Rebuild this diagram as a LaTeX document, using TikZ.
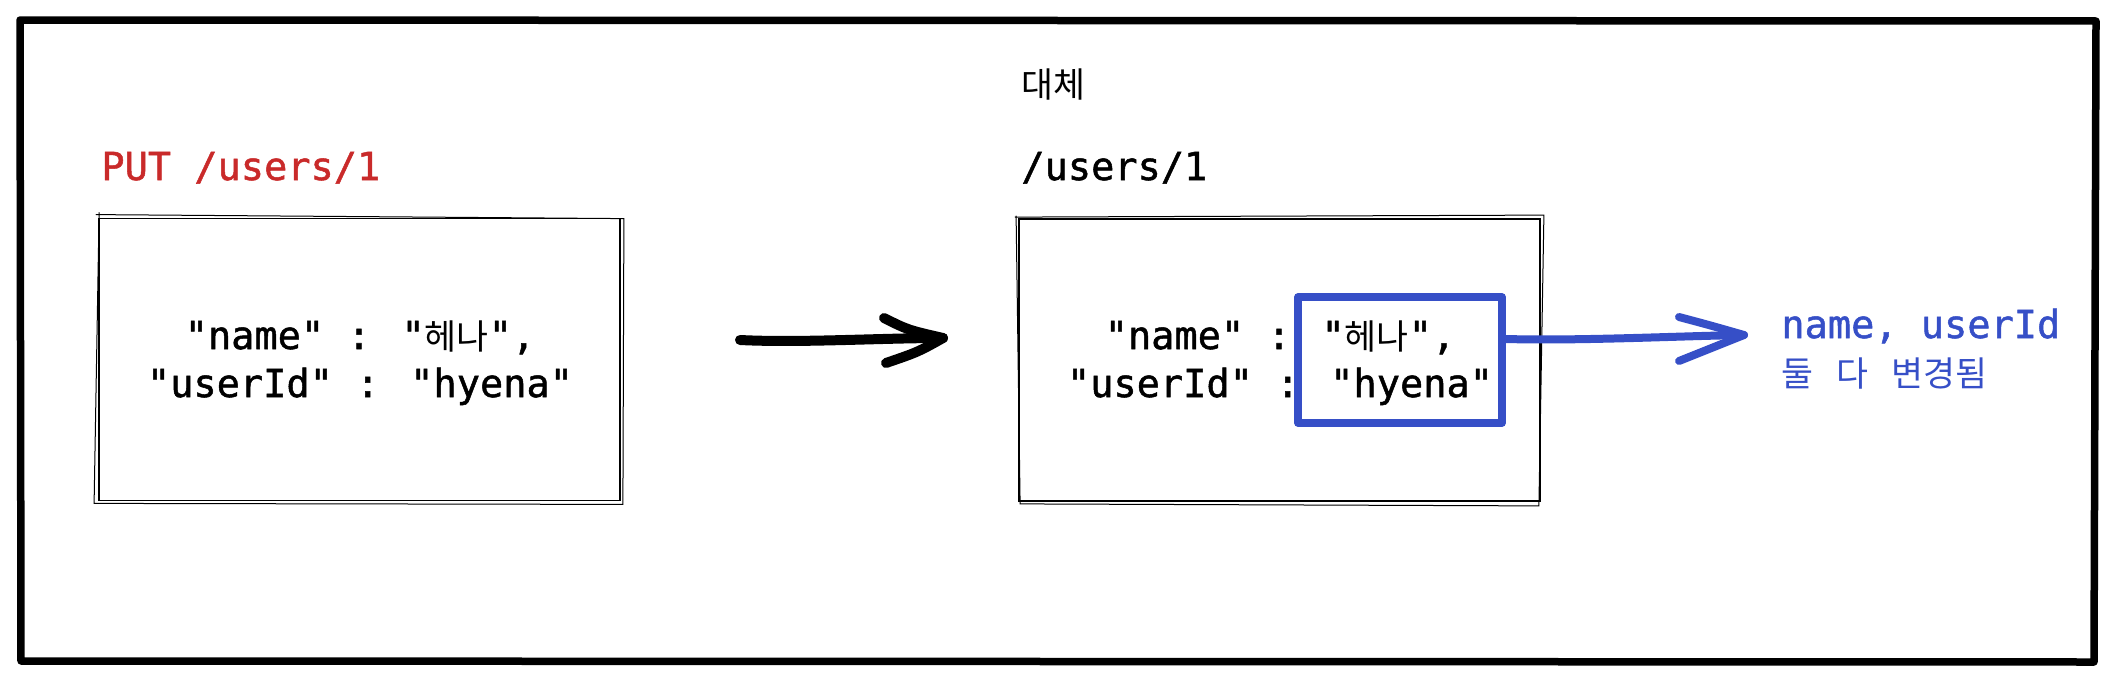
\documentclass[tikz,border=0pt]{standalone}
\usepackage{fontspec}
\newfontfamily\monofont{DejaVu Sans Mono}[FakeBold=1.3]
\newfontfamily\krfont{Noto Sans CJK KR}[Scale=0.9]
\newcommand{\hg}[1]{{\krfont #1}}
\definecolor{putred}{HTML}{C92A2A}
\definecolor{hlblue}{HTML}{364FC7}
\begin{document}
\begin{tikzpicture}[x=0.5pt,y=-0.5pt,
  mono/.style={font=\fontsize{19.3}{24}\selectfont\monofont, inner sep=0pt},
  blackbox/.style={draw=black, line width=0.9pt, minimum width=260.5pt, minimum height=141pt, inner sep=0pt},
  sketch/.style={draw=black, line width=0.5pt, line cap=round},
  frame/.style={draw=black, line width=3.75pt, line join=round, line cap=round},
  hlbox/.style={draw=hlblue, line width=3.7pt, line join=round, minimum width=102pt, minimum height=63pt, inner sep=0pt},
  bigarrow/.style={draw=black, line width=5pt, line cap=round, line join=round},
  bluearrow/.style={draw=hlblue, line width=4pt, line cap=round, line join=round}]
\useasboundingbox (0,0) rectangle (2120,680);
% outer frame
\draw[frame] (20,20) -- (2096,21) -- (2094,662) -- (21,661) -- cycle;
% titles
\node[font=\fontsize{19.3}{24}\selectfont\krfont, anchor=west, inner sep=0pt] (rep) at (1021,84) {대체};
\node[mono, text=putred, anchor=base west] (put) at (101,180) {PUT /users/1};
\node[mono, anchor=base west] (res) at (1021,180) {/users/1};
% left box
\node[blackbox] (lb) at (359.5,359.5) {};
\draw[sketch] ([shift={(-2,-3)}]lb.north west) -- ([shift={(3,1)}]lb.north east) -- ([shift={(2,3)}]lb.south east) -- ([shift={(-4,2)}]lb.south west) -- ([shift={(1,-5)}]lb.north west);
\node[mono, anchor=base] (l1) at (360,349) {"name" : "\hg{헤나}",};
\node[mono, anchor=base] (l2) at (360,397) {"userId" : "hyena"};
% right box
\node[blackbox] (rb) at (1279.5,360) {};
\draw[sketch] ([shift={(-3,-1)}]rb.north west) -- ([shift={(3,-3)}]rb.north east) -- ([shift={(-2,4)}]rb.south east) -- ([shift={(2,2)}]rb.south west) -- ([shift={(-2,-2)}]rb.north west);
\node[mono, anchor=base] (r1) at (1280,349) {"name" : "\hg{헤나}",};
\node[mono, anchor=base] (r2) at (1280,397) {"userId" : "hyena"};
% highlight box
\node[hlbox] (hl) at (1400,360) {};
% black arrow
\coordinate (a1) at (740,340);
\coordinate (a2) at (943,338);
\draw[bigarrow] (a1) .. controls (800,343) and (880,338) .. (a2);
\draw[bigarrow] ([shift={(-59,-20)}]a2) .. controls ([shift={(-35,-8)}]a2) .. (a2) .. controls ([shift={(-25,14)}]a2) .. ([shift={(-57,25)}]a2);
% blue arrow
\coordinate (b2) at (1744,335);
\draw[bluearrow] ([yshift=10.5pt]hl.east) .. controls (1580,341) and (1680,336) .. (b2);
\draw[bluearrow] ([shift={(-65,-18)}]b2) .. controls ([shift={(-35,-10)}]b2) .. (b2) .. controls ([shift={(-30,12)}]b2) .. ([shift={(-65,26)}]b2);
% notes
\node[mono, text=hlblue, anchor=base west] (n1) at (1781,338) {name, userId};
\node[mono, text=hlblue, anchor=base west] (n2) at (1781,386) {\hg{둘} \hg{다} \hg{변경됨}};
\end{tikzpicture}
\end{document}
